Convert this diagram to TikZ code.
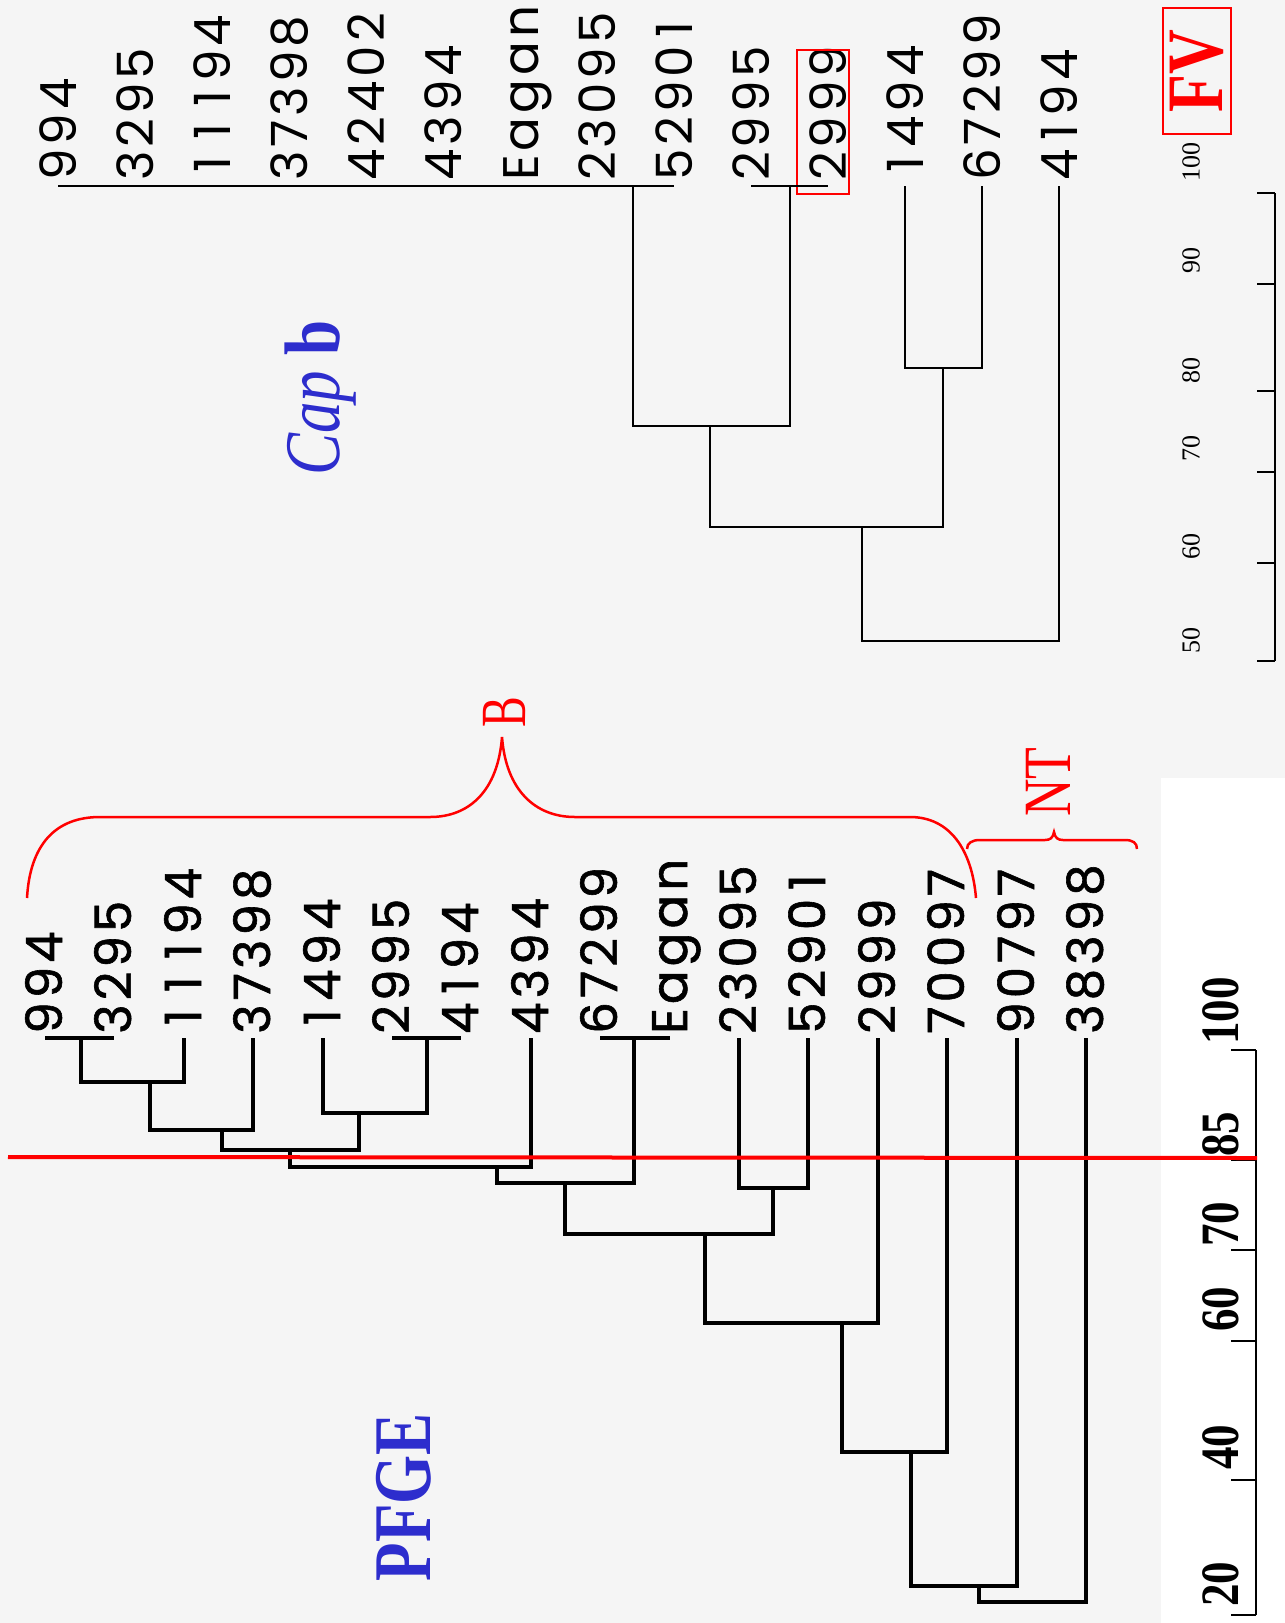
\documentclass[tikz,border=0pt]{standalone}
\usepackage{fontspec}
\usepackage{tikz}
\newfontfamily\leaffont{Poppins}[LetterSpace=8]
\newfontfamily\leafboldfont{Poppins}[LetterSpace=8, FakeBold=1.2]
\newfontfamily\serifont{Liberation Serif}
\newcommand{\tabone}{\makebox[0.66em]{1}}
\definecolor{bggrey}{RGB}{245,245,245}
\definecolor{capblue}{RGB}{45,45,205}
\tikzset{
  leaf1/.style = {
    rotate = 90, anchor = base west,
    inner xsep = 5pt, inner ysep = 0pt,
    text height = 36pt, text depth = 0pt,
    font = \leaffont\fontsize{50}{50}\selectfont,
  },
  leaf2/.style = {
    rotate = 90, anchor = base west,
    inner xsep = 4pt, inner ysep = 0pt,
    text height = 34pt, text depth = 0pt,
    font = \leafboldfont\fontsize{50}{50}\selectfont,
  }
}
\tikzset{
  title1/.style = {
    rotate = 90, inner sep = 0pt,
    font = \serifont\fontsize{63}{63}\selectfont,
  },
  scale1/.style = {
    rotate = 90, anchor = west, inner sep = 0pt,
    font = \serifont\fontsize{26}{26}\selectfont,
  },
  scale2/.style = {
    rotate = 90, anchor = west, inner sep = 0pt,
    font = \serifont\bfseries\fontsize{45}{45}\selectfont,
  }
}
\tikzset{
  tree1/.style = {draw = black, line width = 1.8pt},
  tree2/.style = {draw = black, line width = 3.5pt},
  axis1/.style = {draw = black, line width = 2.5pt},
  brace1/.style = {draw = red, line width = 2.5pt},
  cut1/.style = {draw = red, line width = 4pt},
}

\begin{document}
\begin{tikzpicture}[x = 1pt, y = -1pt]
        \useasboundingbox (0,0) rectangle (1285,1623);
        \fill[bggrey] (0,0) rectangle (1285,1623);
        \fill[white] (1161,778) rectangle (1285,1623);

        \node[leaf1](t1) at (76,186){994};
        \node[leaf1](t2) at (153,186){3295};
        \node[leaf1](t3) at (230,186){\tabone\tabone\tabone94};
        \node[leaf1](t4) at (307,186){37398};
        \node[leaf1](t5) at (384,186){42402};
        \node[leaf1](t6) at (461,186){4394};
        \node[leaf1](t7) at (538,186){Eagan};
        \node[leaf1](t8) at (615,186){23095};
        \node[leaf1](t9) at (692,186){5290\tabone};
        \node[leaf1](t10) at (769,186){2995};
        \node[leaf1](t11) at (846,186){2999};
        \node[leaf1](t12) at (923,186){\tabone494};
        \node[leaf1](t13) at (1000,186){67299};
        \node[leaf1](t14) at (1077,186){4\tabone94};
        \draw[red, line width = 2pt] (797,50) rectangle (849,194);

        \coordinate (m1) at (633,186);
        \coordinate (m2) at (790,186);
        \coordinate (m3) at (710,426);
        \coordinate (m4) at (943,368);
        \coordinate (m5) at (862,527);
        \coordinate (m6) at (960,641);
        \draw[tree1](t1.west) -- (t9.west);
        \draw[tree1](t10.west) -- (t11.west);
        \draw[tree1](m1) |- (m3) -| (m2);
        \draw[tree1](t12.west) |- (m4) -| (t13.west);
        \draw[tree1](m3) |- (m5) -| (m4);
        \draw[tree1](m5) |- (m6) -| (t14.west);

        \coordinate (a1) at (1275,193);
        \coordinate (a2) at (1275,284);
        \coordinate (a3) at (1275,391);
        \coordinate (a4) at (1275,472);
        \coordinate (a5) at (1275,563);
        \coordinate (a6) at (1275,661);
        \draw[axis1](a1) -- (a6);
        \draw[axis1](a1) -- ++(-18,0);
        \draw[axis1](a2) -- ++(-18,0);
        \draw[axis1](a3) -- ++(-18,0);
        \draw[axis1](a4) -- ++(-18,0);
        \draw[axis1](a5) -- ++(-18,0);
        \draw[axis1](a6) -- ++(-18,0);
        \node[scale1](s1) at (1191,182){100};
        \node[scale1](s2) at (1191,274){90};
        \node[scale1](s3) at (1191,384){80};
        \node[scale1](s4) at (1191,462){70};
        \node[scale1](s5) at (1191,560){60};
        \node[scale1](s6) at (1191,654){50};

        \node[title1, text = capblue](capb) at (321,398){\scalebox{1}[1.25]{\textit{Cap} \textbf{b}}};
        \node[title1, draw = red, line width = 2pt, text = red, inner xsep = 22pt, inner ysep = 7pt,
          font = \serifont\bfseries\fontsize{62}{62}\selectfont](fv) at (1197,71){\scalebox{1}[1.29]{FV}};

        \node[leaf2](p1) at (62,1038){994};
        \node[leaf2](p2) at (131,1038){3295};
        \node[leaf2](p3) at (201,1038){\tabone\tabone\tabone94};
        \node[leaf2](p4) at (270,1038){37398};
        \node[leaf2](p5) at (340,1038){\tabone494};
        \node[leaf2](p6) at (409,1038){2995};
        \node[leaf2](p7) at (478,1038){4\tabone94};
        \node[leaf2](p8) at (548,1038){4394};
        \node[leaf2](p9) at (617,1038){67299};
        \node[leaf2](p10) at (687,1038){Eagan};
        \node[leaf2](p11) at (756,1038){23095};
        \node[leaf2](p12) at (825,1038){5290\tabone};
        \node[leaf2](p13) at (895,1038){2999};
        \node[leaf2](p14) at (964,1038){70097};
        \node[leaf2](p15) at (1034,1038){90797};
        \node[leaf2](p16) at (1103,1038){38398};

        \coordinate (q1) at (81,1038);
        \coordinate (q2) at (150,1082);
        \coordinate (q3) at (222,1130);
        \coordinate (q4) at (427,1038);
        \coordinate (q5) at (359,1113);
        \coordinate (q6) at (290,1150);
        \coordinate (q7) at (497,1167);
        \coordinate (q8) at (634,1038);
        \coordinate (q9) at (565,1183);
        \coordinate (q10) at (773,1188);
        \coordinate (q11) at (705,1234);
        \coordinate (q12) at (842,1323);
        \coordinate (q13) at (911,1452);
        \coordinate (q14) at (979,1586);
        \coordinate (q15) at (1030,1602);
        \draw[tree2](p1.west) -- (p2.west);
        \draw[tree2](q1) |- (q2) -| (p3.west);
        \draw[tree2](q2) |- (q3) -| (p4.west);
        \draw[tree2](p6.west) -- (p7.west);
        \draw[tree2](p5.west) |- (q5) -| (q4);
        \draw[tree2](q3) |- (q6) -| (q5);
        \draw[tree2](q6) |- (q7) -| (p8.west);
        \draw[tree2](p9.west) -- (p10.west);
        \draw[tree2](q7) |- (q9) -| (q8);
        \draw[tree2](p11.west) |- (q10) -| (p12.west);
        \draw[tree2](q9) |- (q11) -| (q10);
        \draw[tree2](q11) |- (q12) -| (p13.west);
        \draw[tree2](q12) |- (q13) -| (p14.west);
        \draw[tree2](q13) |- (q14) -| (p15.west);
        \draw[tree2](q14) |- (q15) -| (p16.west);

        \coordinate (c1) at (1256,1050);
        \coordinate (c2) at (1256,1160);
        \coordinate (c3) at (1256,1250);
        \coordinate (c4) at (1256,1341);
        \coordinate (c5) at (1256,1480);
        \coordinate (c6) at (1256,1615);
        \draw[axis1](c1) -- (c6);
        \draw[axis1](c1) -- ++(-25,0);
        \draw[axis1](c2) -- ++(-25,0);
        \draw[axis1](c3) -- ++(-25,0);
        \draw[axis1](c4) -- ++(-25,0);
        \draw[axis1](c5) -- ++(-25,0);
        \draw[axis1](c6) -- ++(-25,0);
        \node[scale2](r1) at (1221,1045){\scalebox{1}[1.2]{100}};
        \node[scale2](r2) at (1221,1157){\scalebox{1}[1.2]{85}};
        \node[scale2](r3) at (1221,1247){\scalebox{1}[1.2]{70}};
        \node[scale2](r4) at (1221,1332){\scalebox{1}[1.2]{60}};
        \node[scale2](r5) at (1221,1470){\scalebox{1}[1.2]{40}};
        \node[scale2](r6) at (1221,1607){\scalebox{1}[1.2]{20}};

        \coordinate (cut1) at (8,1157);
        \coordinate (cut2) at (1257,1158);
        \draw[cut1](cut1) -- (cut2);

        \draw[brace1] (27,898) .. controls (30,845) and (55,817) .. (100,817) -- (430,817)
          .. controls (470,817) and (498,790) .. (502,737)
          .. controls (506,790) and (535,817) .. (575,817) -- (910,817)
          .. controls (950,817) and (972,850) .. (976,898);
        \draw[brace1] (967,849) .. controls (967,843) and (972,840) .. (980,840) -- (1045,840)
          .. controls (1050,840) and (1053,838) .. (1054,832)
          .. controls (1055,838) and (1058,840) .. (1063,840) -- (1125,840)
          .. controls (1133,840) and (1137,843) .. (1137,849);
        \node[title1, text = red, font = \serifont\fontsize{46}{46}\selectfont](lb) at (505,712){\scalebox{1}[1.4]{B}};
        \node[title1, text = red, font = \serifont\fontsize{52}{52}\selectfont](lnt) at (1048,782){\scalebox{1}[1.3]{NT}};

        \node[title1, text = capblue](pfge) at (404,1497){\scalebox{1}[1.3]{\textbf{PFGE}}};
    \end{tikzpicture}
\end{document}
